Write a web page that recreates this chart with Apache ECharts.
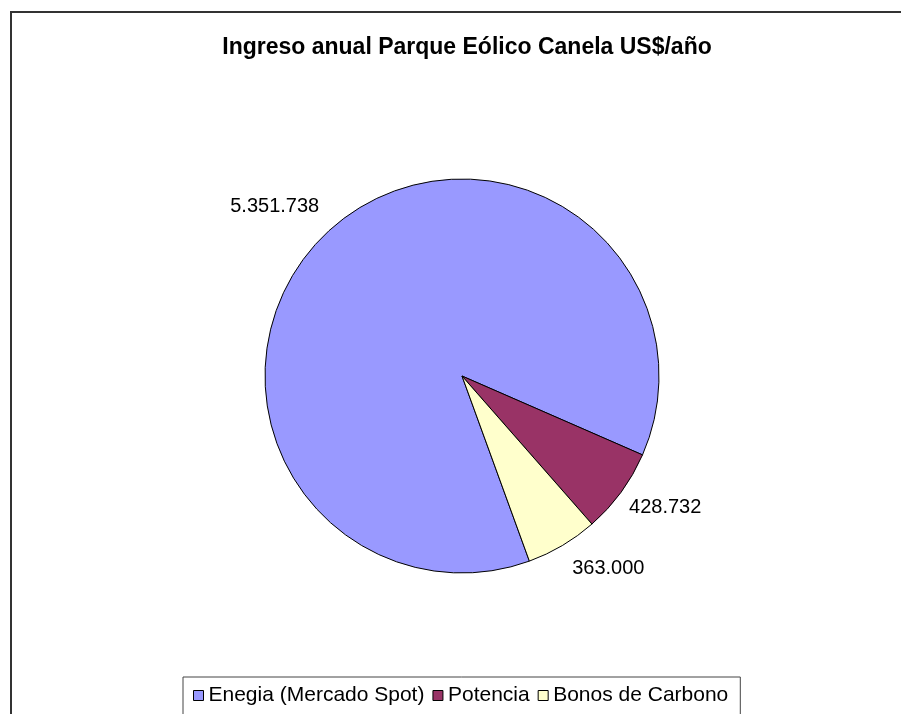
<!DOCTYPE html>
<html>
<head>
<meta charset="utf-8">
<script src="https://cdn.jsdelivr.net/npm/echarts@6/dist/echarts.min.js"></script>
<style>html,body{margin:0;padding:0;background:#fff}#c{width:901px;height:714px}</style>
</head>
<body>
<div id="c"></div>
<script>
const titleText = 'Ingreso anual Parque Eólico Canela US$/año';
const categories = ['Enegia (Mercado Spot)', 'Potencia', 'Bonos de Carbono'];
const values = [5351738, 428732, 363000];
const colors = ['#9999FF', '#993366', '#FFFFCC'];

function fmt(v) {
  return String(v).replace(/\B(?=(\d{3})+(?!\d))/g, '.');
}

const labelTweaks = [
  { len: 35, dist: -16 },
  { len: 26, dist: -13 },
  { len: 27, dist: -4 }
];

const chart = echarts.init(document.getElementById('c'), null, { renderer: 'canvas' });
chart.setOption({
  backgroundColor: '#fff',
  animation: false,
  title: {
    text: titleText,
    left: 462,
    textAlign: 'center',
    top: 31,
    textStyle: { fontFamily: 'Liberation Sans, Arial', fontWeight: 'bold', fontSize: 23, color: '#000' }
  },
  legend: {
    data: categories,
    left: 183,
    top: 677,
    orient: 'horizontal',
    padding: [8, 12, 9, 10],
    itemGap: 8,
    itemWidth: 10,
    itemHeight: 10,
    icon: 'rect',
    borderColor: '#444',
    borderWidth: 1,
    itemStyle: { borderColor: '#000', borderWidth: 1 },
    textStyle: { fontFamily: 'Liberation Sans, Arial', fontSize: 21, color: '#000' }
  },
  graphic: [{
    type: 'rect',
    shape: { x: 11, y: 12, width: 1000, height: 1000 },
    style: { fill: 'none', stroke: '#333', lineWidth: 2 },
    silent: true
  }],
  series: [{
    type: 'pie',
    center: [462, 376],
    radius: 197,
    startAngle: 290,
    clockwise: true,
    avoidLabelOverlap: false,
    itemStyle: { borderColor: '#000', borderWidth: 1 },
    label: {
      show: true,
      position: 'outside',
      fontFamily: 'Liberation Sans, Arial',
      fontSize: 20,
      color: '#000',
      formatter: p => fmt(p.value)
    },
    labelLine: { show: false, length: 26, length2: 0 },
    emphasis: { disabled: true },
    data: categories.map((name, i) => ({
      name,
      value: values[i],
      itemStyle: { color: colors[i] },
      label: { distanceToLabelLine: labelTweaks[i].dist },
      labelLine: { length: labelTweaks[i].len }
    }))
  }]
});
</script>
</body>
</html>
